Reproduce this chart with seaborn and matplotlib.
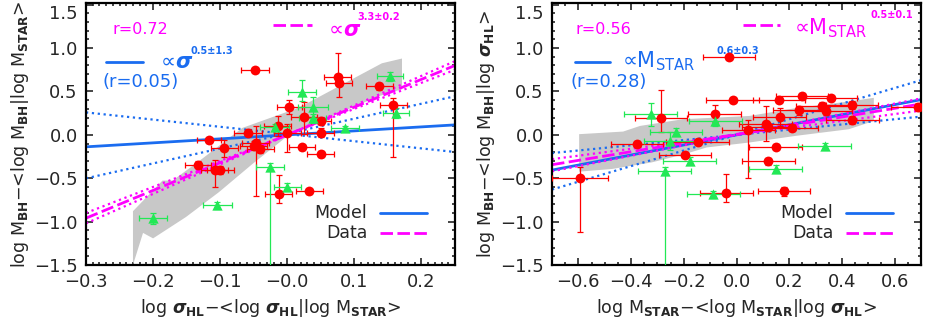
import numpy as np
import pandas as pd
import matplotlib
matplotlib.use('Agg')
import matplotlib.pyplot as plt
from matplotlib.ticker import MultipleLocator
import seaborn as sns

sns.set_style('ticks')
plt.rcParams['font.family'] = ['DejaVu Sans']
plt.rcParams['mathtext.fontset'] = 'dejavusans'

RED = '#ff0000'
GREEN = '#22e855'
BLUE = '#1a6cf0'
MAG = '#ff00ff'
GREY = '#c8c8c8'

# ---------------- left panel: sigma residuals ----------------
L_red_x    = [-0.048, 0.075, 0.077, 0.137, 0.158, 0.003, 0.025, 0.050, -0.014, -0.059, 0.000, 0.050,
              -0.117, -0.047, -0.050, -0.094, -0.040, 0.022, 0.050, -0.133, -0.108, -0.100, -0.013, 0.033]
L_red_y    = [0.753, 0.668, 0.600, 0.561, 0.344, 0.320, 0.206, 0.160, 0.103, 0.026, 0.026, 0.026,
              -0.061, -0.088, -0.125, -0.157, -0.164, -0.145, -0.221, -0.344, -0.405, -0.405, -0.687, -0.650]
L_red_xerr = [0.021, 0.020, 0.020, 0.020, 0.020, 0.019, 0.020, 0.015, 0.020, 0.021, 0.020, 0.020,
              0.018, 0.020, 0.020, 0.020, 0.020, 0.020, 0.020, 0.020, 0.020, 0.020, 0.020, 0.020]
L_red_ylo  = [0.00, 0.05, 0.16, 0.04, 0.60, 0.08, 0.20, 0.05, 0.12, 0.04, 0.22, 0.05,
              0.03, 0.62, 0.05, 0.10, 0.05, 0.03, 0.03, 0.04, 0.20, 0.05, 0.10, 0.03]
L_red_yhi  = [0.00, 0.27, 0.05, 0.04, 0.08, 0.08, 0.17, 0.05, 0.12, 0.04, 0.10, 0.05,
              0.03, 0.19, 0.05, 0.10, 0.05, 0.03, 0.03, 0.04, 0.12, 0.05, 0.22, 0.03]

L_grn_x    = [0.153, 0.022, 0.038, 0.038, -0.019, 0.086, 0.162, -0.026, 0.000, -0.104, -0.200]
L_grn_y    = [0.676, 0.496, 0.320, 0.190, 0.092, 0.077, 0.250, -0.370, -0.600, -0.810, -0.962]
L_grn_xerr = [0.020, 0.021, 0.022, 0.020, 0.021, 0.021, 0.020, 0.021, 0.020, 0.021, 0.021]
L_grn_ylo  = [0.05, 0.10, 0.12, 0.05, 0.03, 0.02, 0.06, 1.20, 0.04, 0.04, 0.06]
L_grn_yhi  = [0.05, 0.14, 0.12, 0.05, 0.03, 0.02, 0.06, 0.05, 0.04, 0.04, 0.06]

L_band_x = [-0.230, -0.230, -0.186, -0.171, -0.131, -0.067, 0.018, 0.141, 0.171,
            0.171, 0.137, 0.077, -0.003, -0.052, -0.102, -0.151, -0.200, -0.215]
L_band_y = [-1.50, -0.88, -0.527, -0.527, -0.30, 0.08, 0.316, 0.825, 0.88,
            0.527, 0.447, 0.25, -0.034, -0.336, -0.661, -0.947, -1.193, -1.13]

# fits: (intercept, slope)
L_model = (0.0, 0.46)
L_model_lo = (0.01, -0.83)
L_model_hi = (0.015, 1.72)
L_data = (0.0, 3.2)
L_data_lo = (0.0, 3.0)
L_data_hi = (0.0, 3.4)

# ---------------- right panel: Mstar residuals ----------------
R_red_x    = [-0.028, -0.015, 0.161, 0.249, 0.358, 0.325, 0.340, 0.438, 0.440, 0.687, 0.239, 0.164, 0.111,
              0.121, 0.210, 0.045, 0.148, -0.083, -0.286, -0.377, -0.147, -0.195, 0.121, -0.594, -0.038, 0.180]
R_red_y    = [0.893, 0.404, 0.404, 0.447, 0.420, 0.332, 0.275, 0.344, 0.172, 0.320, 0.283, 0.206, 0.130,
              0.092, 0.077, 0.054, -0.137, 0.244, 0.190, -0.100, -0.077, -0.229, -0.306, -0.496, -0.668, -0.649]
R_red_xerr = [0.10, 0.10, 0.10, 0.10, 0.10, 0.10, 0.10, 0.10, 0.10, 0.10, 0.10, 0.10, 0.10,
              0.10, 0.10, 0.10, 0.10, 0.10, 0.10, 0.10, 0.12, 0.10, 0.10, 0.105, 0.10, 0.10]
R_red_ylo  = [0.00, 0.00, 0.02, 0.03, 0.02, 0.05, 0.05, 0.05, 0.05, 0.05, 0.05, 0.10, 0.20,
              0.05, 0.03, 0.55, 0.03, 0.10, 0.16, 0.03, 0.03, 0.03, 0.04, 0.62, 0.11, 0.05]
R_red_yhi  = [0.00, 0.00, 0.02, 0.03, 0.02, 0.05, 0.05, 0.05, 0.05, 0.05, 0.05, 0.10, 0.20,
              0.05, 0.03, 0.12, 0.03, 0.10, 0.33, 0.03, 0.03, 0.03, 0.04, 0.12, 0.22, 0.05]

R_grn_x    = [-0.326, -0.229, -0.080, -0.252, 0.335, -0.178, -0.273, 0.148, -0.088]
R_grn_y    = [0.237, 0.038, 0.160, -0.069, -0.126, -0.300, -0.416, -0.390, -0.684]
R_grn_xerr = [0.10, 0.10, 0.10, 0.10, 0.10, 0.10, 0.10, 0.10, 0.10]
R_grn_ylo  = [0.13, 0.04, 0.06, 0.10, 0.03, 0.04, 1.20, 0.04, 0.04]
R_grn_yhi  = [0.13, 0.04, 0.06, 0.10, 0.03, 0.04, 0.04, 0.04, 0.04]

R_band_x = [-0.597, -0.430, -0.366, -0.204, 0.049, 0.226, 0.438, 0.521,
            0.521, 0.426, 0.226, 0.049, -0.113, -0.196, -0.321, -0.472, -0.597]
R_band_y = [0.008, 0.038, 0.103, 0.180, 0.218, 0.309, 0.389, 0.427,
            0.160, 0.065, -0.011, -0.088, -0.145, -0.221, -0.317, -0.393, -0.424]

R_model = (0.0, 0.58)
R_model_lo = (0.0, 0.30)
R_model_hi = (0.0, 0.90)
R_data = (0.006, 0.50)
R_data_lo = (0.0, 0.40)
R_data_hi = (0.0, 0.60)

Y_TICKS = [-1.5, -1.0, -0.5, 0.0, 0.5, 1.0, 1.5]
Y_LABELS = ['\u22121.5', '\u22121.0', '\u22120.5', '0.0', '0.5', '1.0', '1.5']
L_XTICKS = [-0.3, -0.2, -0.1, 0.0, 0.1, 0.2]
L_XLABELS = ['\u22120.3', '\u22120.2', '\u22120.1', '\u22120.0', '0.1', '0.2']
R_XTICKS = [-0.6, -0.4, -0.2, 0.0, 0.2, 0.4, 0.6]
R_XLABELS = ['\u22120.6', '\u22120.4', '\u22120.2', '0.0', '0.2', '0.4', '0.6']

fig = plt.figure(figsize=(9.26, 3.26), dpi=100)
axL = fig.add_axes([86/926, 61/326, 369/926, 262/326])
axR = fig.add_axes([552/926, 61/326, 369/926, 262/326])


def draw_panel(ax, xlim, band_x, band_y, model, mlo, mhi, data, dlo, dhi,
               rx, ry, rxe, rylo, ryhi, gx, gy, gxe, gylo, gyhi):
    ax.set_xlim(*xlim)
    ax.set_ylim(-1.5, 1.52)
    ax.fill(band_x, band_y, color=GREY, lw=0, zorder=1)
    xs = np.array(xlim)
    ax.plot(xs, mlo[0] + mlo[1] * xs, ls=':', color=BLUE, lw=1.6, zorder=2)
    ax.plot(xs, mhi[0] + mhi[1] * xs, ls=':', color=BLUE, lw=1.6, zorder=2)
    ax.plot(xs, model[0] + model[1] * xs, color=BLUE, lw=2, zorder=2)
    ax.plot(xs, dlo[0] + dlo[1] * xs, ls=':', color=MAG, lw=1.6, zorder=2)
    ax.plot(xs, dhi[0] + dhi[1] * xs, ls=':', color=MAG, lw=1.6, zorder=2)
    ax.plot(xs, data[0] + data[1] * xs, color=MAG, lw=2, dashes=(4.5, 1.6), zorder=2)
    ax.errorbar(rx, ry, xerr=rxe, yerr=[rylo, ryhi], fmt='none', ecolor=RED,
                elinewidth=0.9, capsize=2, capthick=0.9, zorder=3)
    ax.errorbar(gx, gy, xerr=gxe, yerr=[gylo, gyhi], fmt='none', ecolor=GREEN,
                elinewidth=0.9, capsize=2, capthick=0.9, zorder=3)
    dfr = pd.DataFrame({'x': rx, 'y': ry})
    dfg = pd.DataFrame({'x': gx, 'y': gy})
    sns.scatterplot(data=dfr, x='x', y='y', ax=ax, color=RED, marker='o', s=50,
                    edgecolor=RED, linewidth=0, zorder=4)
    sns.scatterplot(data=dfg, x='x', y='y', ax=ax, color=GREEN, marker='^', s=55,
                    edgecolor=GREEN, linewidth=0, zorder=4)
    ax.set_yticks(Y_TICKS)
    ax.set_yticklabels(Y_LABELS)
    ax.yaxis.set_minor_locator(MultipleLocator(0.1))
    ax.tick_params(which='both', direction='in', top=True, right=True, labelsize=13, width=1.2)
    ax.tick_params(which='major', length=5, pad=6)
    ax.tick_params(which='minor', length=2.5)
    for s in ax.spines.values():
        s.set_linewidth(1.6)
        s.set_color('black')
    tr = ax.transAxes
    ax.text(0.762, 0.198, 'Model', transform=tr, ha='right', va='center', fontsize=12.5)
    ax.text(0.762, 0.122, 'Data', transform=tr, ha='right', va='center', fontsize=12.5)
    ax.plot([0.797, 0.924], [0.198, 0.198], transform=tr, color=BLUE, lw=2)
    ax.plot([0.797, 0.924], [0.122, 0.122], transform=tr, color=MAG, lw=2, dashes=(4.5, 1.6))


draw_panel(axL, (-0.3, 0.25), L_band_x, L_band_y, L_model, L_model_lo, L_model_hi,
           L_data, L_data_lo, L_data_hi,
           L_red_x, L_red_y, L_red_xerr, L_red_ylo, L_red_yhi,
           L_grn_x, L_grn_y, L_grn_xerr, L_grn_ylo, L_grn_yhi)
draw_panel(axR, (-0.7, 0.7), R_band_x, R_band_y, R_model, R_model_lo, R_model_hi,
           R_data, R_data_lo, R_data_hi,
           R_red_x, R_red_y, R_red_xerr, R_red_ylo, R_red_yhi,
           R_grn_x, R_grn_y, R_grn_xerr, R_grn_ylo, R_grn_yhi)

axL.set_xticks(L_XTICKS)
axL.set_xticklabels(L_XLABELS)
axL.xaxis.set_minor_locator(MultipleLocator(0.01))
axR.set_xticks(R_XTICKS)
axR.set_xticklabels(R_XLABELS)
axR.xaxis.set_minor_locator(MultipleLocator(0.05))

for ax in (axL, axR):
    for lbl in ax.get_yticklabels():
        if lbl.get_text() == '1.5':
            lbl.set_verticalalignment('top')

sig = r'$\boldsymbol{\sigma}_{\bf HL}$'
axL.set_xlabel('log ' + sig + '\u2212<log ' + sig + '|log M$_{\\bf STAR}$>', fontsize=12.5, labelpad=4)
axL.set_ylabel('log M$_{\\bf BH}$\u2212<log M$_{\\bf BH}$|log M$_{\\bf STAR}$>', fontsize=12.5, labelpad=2)
axR.set_xlabel('log M$_{\\bf STAR}$\u2212<log M$_{\\bf STAR}$|log ' + sig + '>', fontsize=12.5, labelpad=4)
axR.set_ylabel('log M$_{\\bf BH}$\u2212<log M$_{\\bf BH}$|log ' + sig + '>', fontsize=12.5, labelpad=2)

# annotations left
t = axL.transAxes
axL.text(0.073, 0.897, 'r=0.72', transform=t, color=MAG, fontsize=11.5, va='center')
axL.plot([0.507, 0.612], [0.916, 0.916], transform=t, color=MAG, lw=2, dashes=(4.5, 1.6))
axL.text(0.645, 0.897, r'$\propto\!\boldsymbol{\sigma}$', transform=t, color=MAG, fontsize=15, va='center')
axL.text(0.736, 0.945, '3.3\u00b10.2', transform=t, color=MAG, fontsize=7, fontweight='bold', va='center')
axL.plot([0.054, 0.154], [0.776, 0.776], transform=t, color=BLUE, lw=2)
axL.text(0.19, 0.776, r'$\propto\!\boldsymbol{\sigma}$', transform=t, color=BLUE, fontsize=15, va='center')
axL.text(0.283, 0.815, '0.5\u00b11.3', transform=t, color=BLUE, fontsize=7, fontweight='bold', va='center')
axL.text(0.046, 0.698, '(r=0.05)', transform=t, color=BLUE, fontsize=13, va='center')

# annotations right
t = axR.transAxes
axR.text(0.065, 0.897, 'r=0.56', transform=t, color=MAG, fontsize=11.5, va='center')
axR.plot([0.518, 0.618], [0.916, 0.916], transform=t, color=MAG, lw=2, dashes=(4.5, 1.6))
axR.text(0.655, 0.905, '\u221dM$_{\\rm STAR}$', transform=t, color=MAG, fontsize=15, va='center')
axR.text(0.862, 0.955, '0.5\u00b10.1', transform=t, color=MAG, fontsize=7, fontweight='bold', va='center')
axR.plot([0.062, 0.157], [0.776, 0.776], transform=t, color=BLUE, lw=2)
axR.text(0.19, 0.776, '\u221dM$_{\\rm STAR}$', transform=t, color=BLUE, fontsize=15, va='center')
axR.text(0.445, 0.815, '0.6\u00b10.3', transform=t, color=BLUE, fontsize=7, fontweight='bold', va='center')
axR.text(0.049, 0.698, '(r=0.28)', transform=t, color=BLUE, fontsize=13, va='center')

fig.savefig('out.png', dpi=100)
